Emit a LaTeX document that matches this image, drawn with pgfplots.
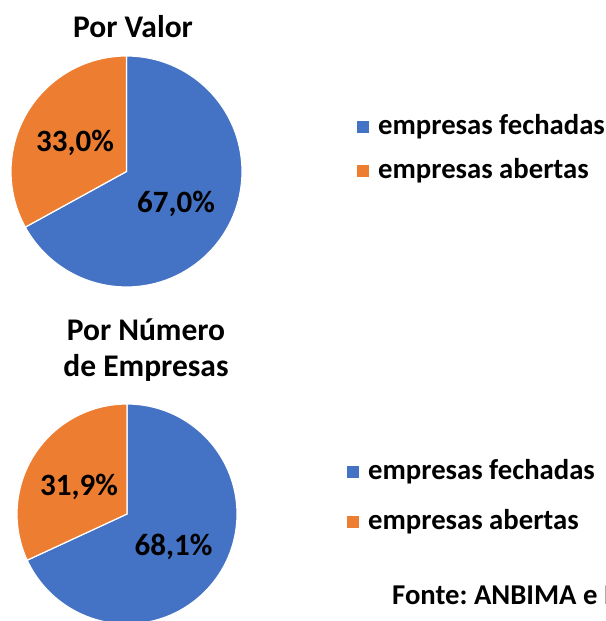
\documentclass[border=0pt]{standalone}
\usepackage{pgfplots}
\pgfplotsset{compat=1.18}
\usepackage{pgfplotstable}
\usepackage{fontspec}
\setmainfont{Carlito}
\frenchspacing
\definecolor{azul}{HTML}{4472C4}
\definecolor{laranja}{HTML}{ED7D31}

% participação (%) por valor e por número de empresas
\pgfplotstableread{
serie valor
fechadas 67.0
abertas 33.0
}\porvalor
\pgfplotstableread{
serie valor
fechadas 68.1
abertas 31.9
}\pornumero

\newcommand{\rotulo}[1]{\pgfmathprintnumber[fixed,fixed zerofill,precision=1,use comma,assume math mode=true]{#1}\%}
\newcommand{\ftit}{\bfseries\fontsize{31.5}{36}\selectfont}
\newcommand{\fpct}{\bfseries\fontsize{31}{36}\selectfont}
\newcommand{\fleg}{\bfseries\fontsize{28.7}{34}\selectfont}

\begin{document}
\begin{tikzpicture}[x=1pt,y=1pt]
\useasboundingbox (0,0) rectangle (605,621);
\clip (0,0) rectangle (605,621);

\pgfplotstablegetelem{0}{valor}\of\porvalor \let\vfa\pgfplotsretval
\pgfplotstablegetelem{1}{valor}\of\porvalor \let\vab\pgfplotsretval
\pgfplotstablegetelem{0}{valor}\of\pornumero \let\nfa\pgfplotsretval
\pgfplotstablegetelem{1}{valor}\of\pornumero \let\nab\pgfplotsretval
\pgfmathsetmacro\afa{90-3.6*\vfa}
\pgfmathsetmacro\aab{90+3.6*\vab}
\pgfmathsetmacro\bfa{90-3.6*\nfa}
\pgfmathsetmacro\bab{90+3.6*\nab}

% Por Valor
\begin{axis}[hide axis, scale only axis, width=231pt, height=231pt,
  xmin=-1, xmax=1, ymin=-1, ymax=1, anchor=center, at={(126.5pt,449.5pt)}, clip=false]
\fill[azul, draw=white, line width=1.2pt] (axis cs:0,0) -- (axis cs:0,1)
  arc[start angle=90, end angle=\afa, radius=115.5pt] -- cycle;
\fill[laranja, draw=white, line width=1.2pt] (axis cs:0,0) -- (axis cs:0,1)
  arc[start angle=90, end angle=\aab, radius=115.5pt] -- cycle;
\node[font=\fpct] at (axis cs:-0.446,0.247) {\rotulo{\vab}};
\node[font=\fpct] at (axis cs:0.429,-0.281) {\rotulo{\vfa}};
\end{axis}

% Por Número de Empresas
\begin{axis}[hide axis, scale only axis, width=220pt, height=220pt,
  xmin=-1, xmax=1, ymin=-1, ymax=1, anchor=center, at={(127pt,107pt)}, clip=false]
\fill[azul, draw=white, line width=1.2pt] (axis cs:0,0) -- (axis cs:0,1)
  arc[start angle=90, end angle=\bfa, radius=110pt] -- cycle;
\fill[laranja, draw=white, line width=1.2pt] (axis cs:0,0) -- (axis cs:0,1)
  arc[start angle=90, end angle=\bab, radius=110pt] -- cycle;
\node[font=\fpct] at (axis cs:-0.436,0.245) {\rotulo{\nab}};
\node[font=\fpct] at (axis cs:0.423,-0.3) {\rotulo{\nfa}};
\end{axis}

% títulos
\node[font=\ftit] at (133,594) {Por Valor};
\node[font=\ftit, align=center] at (146,271) {Por Número\\de Empresas};

% legendas
\fill[azul] (357,488) rectangle (369,500);
\node[anchor=west, inner sep=0, font=\fleg] at (378,494) {empresas fechadas};
\fill[laranja] (357,444) rectangle (369,456);
\node[anchor=west, inner sep=0, font=\fleg] at (378,450) {empresas abertas};
\fill[azul] (347,143) rectangle (359,155);
\node[anchor=west, inner sep=0, font=\fleg] at (368,149) {empresas fechadas};
\fill[laranja] (347,93) rectangle (359,105);
\node[anchor=west, inner sep=0, font=\fleg] at (368,99) {empresas abertas};

\node[anchor=west, inner sep=0, font=\fleg] at (392,26) {Fonte: ANBIMA e B3};
\end{tikzpicture}
\end{document}
